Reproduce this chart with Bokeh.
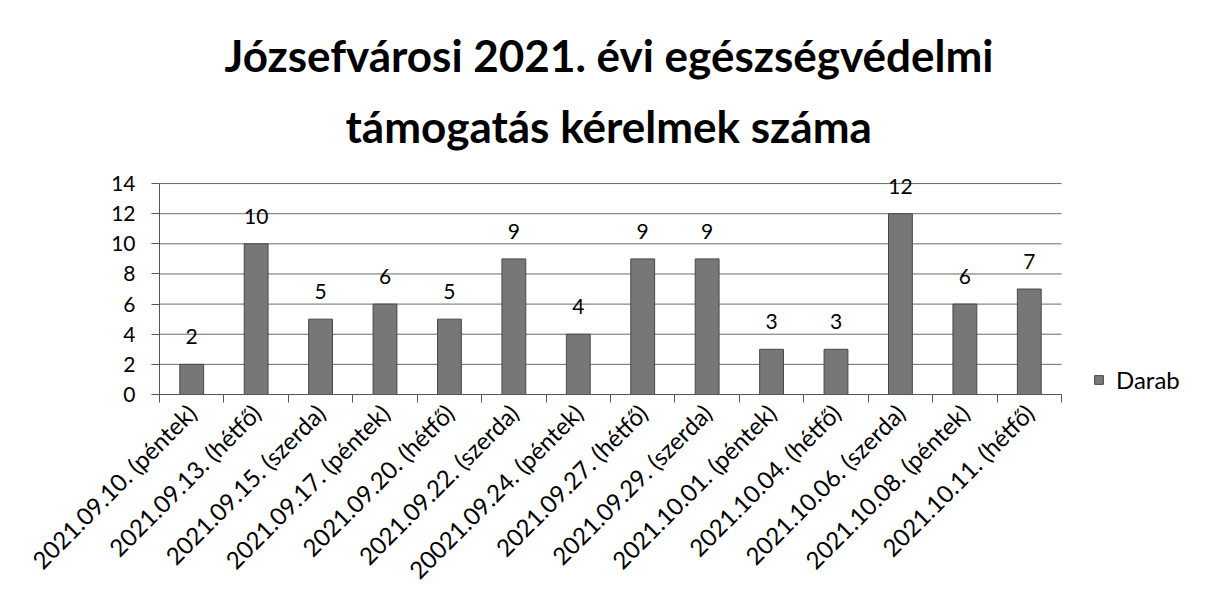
from bokeh.plotting import figure
from bokeh.models import (ColumnDataSource, LabelSet, Legend, LegendItem, Title,
                          FixedTicker, Range1d)
from bokeh.embed import file_html
from bokeh.resources import INLINE
from bokeh.core.properties import value
import math

# ---- data ----
categories = [
    "2021.09.10. (péntek)", "2021.09.13. (hétfő)", "2021.09.15. (szerda)",
    "2021.09.17. (péntek)", "2021.09.20. (hétfő)", "2021.09.22. (szerda)",
    "20021.09.24. (péntek)", "2021.09.27. (hétfő)", "2021.09.29. (szerda)",
    "2021.10.01. (péntek)", "2021.10.04. (hétfő)", "2021.10.06. (szerda)",
    "2021.10.08. (péntek)", "2021.10.11. (hétfő)",
]
darab = [2, 10, 5, 6, 5, 9, 4, 9, 9, 3, 3, 12, 6, 7]
series_name = "Darab"
title_line1 = "Józsefvárosi 2021. évi egészségvédelmi"
title_line2 = "támogatás kérelmek száma"
y_ticks = [0, 2, 4, 6, 8, 10, 12, 14]

FONT = "Lato"

n = len(categories)
centers = [i + 0.5 for i in range(n)]
bounds = list(range(n + 1))

source = ColumnDataSource(dict(x=centers, top=darab, label=[str(v) for v in darab]))
grid_src = ColumnDataSource(dict(y=y_ticks, x0=[0] * len(y_ticks), x1=[n] * len(y_ticks)))

# frame extends to the right edge so the legend can sit inside it;
# category unit width is kept at ~64.4px (902px for 14 categories)
x_end = n * (1196 - 159) / 902.0

p = figure(width=1196, height=599, output_backend="svg", toolbar_location=None,
           x_range=Range1d(0, x_end), y_range=Range1d(0, 15),
           min_border_left=159, min_border_right=0,
           min_border_top=168, min_border_bottom=205)
p.background_fill_color = "white"
p.border_fill_color = "white"
p.outline_line_color = None

# horizontal gridlines limited to the category area
p.segment(x0="x0", x1="x1", y0="y", y1="y", source=grid_src,
          line_color="#6a6a6a", line_width=1)

bars = p.vbar(x="x", top="top", width=0.37, source=source,
              fill_color="#777777", line_color="#484848", line_width=1)

# titles (left aligned with offsets so both lines are centred on the chart)
t2 = Title(text=title_line2, align="left", offset=186, text_font=FONT,
           text_font_size="44px", text_font_style="bold", text_color="black",
           standoff=34)
t1 = Title(text=title_line1, align="left", offset=65, text_font=FONT,
           text_font_size="44px", text_font_style="bold", text_color="black",
           standoff=0)
p.add_layout(t2, "above")
p.add_layout(t1, "above")

# y axis
p.yaxis.ticker = FixedTicker(ticks=y_ticks)
p.yaxis.bounds = (0, 14)
p.yaxis.major_tick_out = 8
p.yaxis.major_tick_in = 0
p.yaxis.minor_tick_line_color = None
p.yaxis.axis_line_color = "#555555"
p.yaxis.major_tick_line_color = "#555555"
p.yaxis.major_label_text_font = FONT
p.yaxis.major_label_text_font_size = "21px"
p.yaxis.major_label_text_color = "black"
p.yaxis.major_label_standoff = 16

# x axis
p.xaxis.ticker = FixedTicker(ticks=centers, minor_ticks=bounds)
p.xaxis.bounds = (0, n)
p.xaxis.major_label_overrides = {c: lab for c, lab in zip(centers, categories)}
p.xaxis.major_tick_line_color = None
p.xaxis.minor_tick_out = 8
p.xaxis.minor_tick_in = 0
p.xaxis.minor_tick_line_color = "#555555"
p.xaxis.axis_line_color = "#555555"
p.xaxis.major_label_orientation = math.pi / 4
p.xaxis.major_label_text_font = FONT
p.xaxis.major_label_text_font_size = "24px"
p.xaxis.major_label_text_color = "black"
p.xaxis.major_label_standoff = 6

p.xgrid.grid_line_color = None
p.ygrid.grid_line_color = None

labels = LabelSet(x="x", y="top", text="label", source=source, text_align="center",
                  text_baseline="alphabetic", y_offset=20, text_font=value(FONT),
                  text_font_size="21px", text_color="black")
p.add_layout(labels)

legend = Legend(items=[LegendItem(label=series_name, renderers=[bars])],
                location=(934, 0), border_line_color=None, background_fill_alpha=0,
                padding=0, margin=0, glyph_width=11, glyph_height=11,
                label_height=16, label_standoff=12, label_text_font=FONT,
                label_text_font_size="24px", label_text_color="black")
p.add_layout(legend, "center")

open("out.html", "w").write(file_html(p, INLINE))
